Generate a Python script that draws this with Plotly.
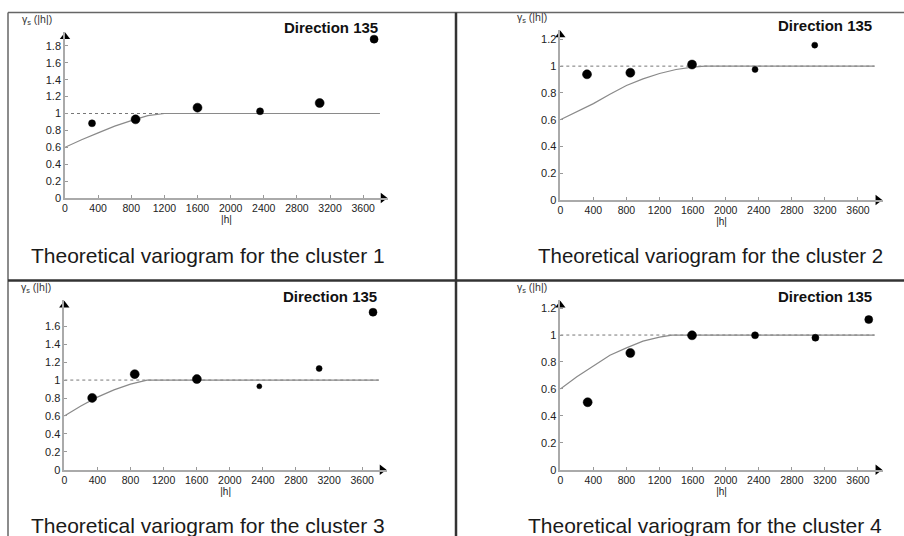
import plotly.graph_objects as go

W, H = 904, 536

# ---------------- data ----------------
x_ticks = [0, 400, 800, 1200, 1600, 2000, 2400, 2800, 3200, 3600]
x_tick_labels = ["0", "400", "800", "1200", "1600", "2000", "2400", "2800", "3200", "3600"]

y_ticks_c1 = [0, 0.2, 0.4, 0.6, 0.8, 1, 1.2, 1.4, 1.6, 1.8]
y_ticks_c2 = [0, 0.2, 0.4, 0.6, 0.8, 1, 1.2]
y_ticks_c3 = [0, 0.2, 0.4, 0.6, 0.8, 1, 1.2, 1.4, 1.6]
y_ticks_c4 = [0, 0.2, 0.4, 0.6, 0.8, 1, 1.2]

# experimental variogram points
lag_c1 = [326, 852, 1600, 2355, 3075, 3732]
gamma_c1 = [0.884, 0.931, 1.069, 1.026, 1.124, 1.88]
lag_c2 = [323, 847, 1593, 2355, 3077]
gamma_c2 = [0.939, 0.951, 1.012, 0.975, 1.157]
lag_c3 = [337, 851, 1602, 2357, 3080, 3731]
gamma_c3 = [0.801, 1.066, 1.011, 0.930, 1.129, 1.757]
lag_c4 = [331, 847, 1593, 2355, 3085, 3730]
gamma_c4 = [0.501, 0.867, 0.998, 0.998, 0.980, 1.115]

# theoretical (model) curves
model_h_c1 = [0, 200, 400, 600, 800, 1000, 1200, 3800]
model_g_c1 = [0.6, 0.69, 0.77, 0.85, 0.915, 0.975, 1.0, 1.0]
model_h_c2 = [0, 200, 400, 600, 800, 1000, 1200, 1400, 1600, 1750, 3800]
model_g_c2 = [0.6, 0.66, 0.72, 0.79, 0.855, 0.905, 0.945, 0.975, 0.993, 1.0, 1.0]
model_h_c3 = [0, 200, 400, 600, 800, 1000, 3800]
model_g_c3 = [0.6, 0.71, 0.81, 0.89, 0.955, 1.0, 1.0]
model_h_c4 = [0, 200, 400, 600, 800, 1000, 1200, 1350, 3800]
model_g_c4 = [0.6, 0.69, 0.77, 0.85, 0.905, 0.955, 0.985, 1.0, 1.0]

sill_h = [0, 3800]
sill_value = 1.0

captions = ["Theoretical variogram for the cluster 1",
            "Theoretical variogram for the cluster 2",
            "Theoretical variogram for the cluster 3",
            "Theoretical variogram for the cluster 4"]
direction_label = "Direction 135"
y_title = "γ<sub>s</sub> (|h|)"
x_title = "|h|"

# ---------------- styles / layout ----------------
marker_sizes = [[7, 9, 9, 7, 9, 8], [9, 9, 9, 6, 6], [9, 9, 9, 5, 6, 8], [9, 9, 9, 7, 7, 8]]
FONT = "Liberation Sans, Arial, sans-serif"

# pixel boxes of each plot area: (x_left, x_right, y_bottom, y_top)
boxes = [(65, 388, 198, 31.7), (560.3, 882.8, 200, 30),
         (64.3, 387, 469.7, 300.3), (560.3, 882.8, 469.7, 300.3)]
x_max = 3900
y_max = [1.968, 1.27, 1.89, 1.258]

panels = [
    (lag_c1, gamma_c1, model_h_c1, model_g_c1, y_ticks_c1),
    (lag_c2, gamma_c2, model_h_c2, model_g_c2, y_ticks_c2),
    (lag_c3, gamma_c3, model_h_c3, model_g_c3, y_ticks_c3),
    (lag_c4, gamma_c4, model_h_c4, model_g_c4, y_ticks_c4),
]

fig = go.Figure()
layout = dict(width=W, height=H, autosize=False, margin=dict(l=0, r=0, t=0, b=0, pad=0),
              paper_bgcolor="white", plot_bgcolor="white", showlegend=False,
              font=dict(family=FONT, color="#222"))

annotations = []
shapes = []

def px_x(x):
    return x / W

def px_y(y):
    return 1 - y / H

for i, (lag, gam, mh, mg, yt) in enumerate(panels):
    n = i + 1
    xa = "x" if n == 1 else f"x{n}"
    ya = "y" if n == 1 else f"y{n}"
    xl, xr, yb, ytop = boxes[i]
    px_per_x = (xr - xl) / x_max
    px_per_y = (yb - ytop) / y_max[i]

    # sill (dotted)
    fig.add_trace(go.Scatter(x=sill_h, y=[sill_value] * len(sill_h), mode="lines",
                             line=dict(color="#777", width=1, dash="dot"),
                             xaxis=xa, yaxis=ya, hoverinfo="skip"))
    # model curve
    fig.add_trace(go.Scatter(x=mh, y=mg, mode="lines",
                             line=dict(color="#8a8a8a", width=1.2),
                             xaxis=xa, yaxis=ya, hoverinfo="skip"))
    # experimental points
    fig.add_trace(go.Scatter(x=lag, y=gam, mode="markers",
                             marker=dict(color="#000000", size=marker_sizes[i], opacity=1,
                                         line=dict(color="#000000", width=0.5)),
                             xaxis=xa, yaxis=ya, cliponaxis=False))
    # axis arrows
    fig.add_trace(go.Scatter(x=[x_max - 5 / px_per_x], y=[0], mode="markers",
                             marker=dict(symbol="triangle-right", color="black", size=9),
                             xaxis=xa, yaxis=ya, cliponaxis=False, hoverinfo="skip"))
    fig.add_trace(go.Scatter(x=[0], y=[y_max[i] - 5 / px_per_y], mode="markers",
                             marker=dict(symbol="triangle-up", color="black", size=9),
                             xaxis=xa, yaxis=ya, cliponaxis=False, hoverinfo="skip"))

    ykey = "yaxis" if n == 1 else f"yaxis{n}"
    xkey = "xaxis" if n == 1 else f"xaxis{n}"
    layout[xkey] = dict(domain=[px_x(xl), px_x(xr)], range=[0, x_max], anchor=ya,
                        automargin=False,
                        showgrid=False, zeroline=False, showline=True,
                        linecolor="#aaa", linewidth=1.5,
                        ticks="inside", ticklen=3, tickcolor="#999",
                        tickvals=x_ticks, ticktext=x_tick_labels,
                        tickfont=dict(size=10.5, color="#222"),
                        title=dict(text=x_title, font=dict(size=10, color="#222"), standoff=2))
    layout[ykey] = dict(domain=[px_y(yb), px_y(ytop)], range=[0, y_max[i]], anchor=xa,
                        automargin=False,
                        showgrid=False, zeroline=False, showline=True,
                        linecolor="#aaa", linewidth=1.5,
                        ticks="inside", ticklen=3, tickcolor="#999",
                        tickvals=yt, ticktext=[f"{v:g}" for v in yt],
                        tickfont=dict(size=11, color="#222"))

    # y-axis title above the axis
    annotations.append(dict(xref="paper", yref="paper", x=px_x(xl - 11), y=px_y(ytop - 12),
                            xanchor="right", yanchor="middle", showarrow=False,
                            text=y_title, font=dict(size=10.5, color="#333")))
    # Direction label
    annotations.append(dict(xref="paper", yref="paper", x=px_x(xl + 315 if i in (0, 2) else xl + 314),
                            y=px_y(ytop - 4), xanchor="right", yanchor="middle", showarrow=False,
                            text=f"<b>{direction_label}</b>", font=dict(size=15, color="#111")))

# captions
caption_pos = [(208, 255), (710, 255), (208, 525), (705, 525)]
caption_sizes = [21, 20.5, 21, 21]
for (cx, cy), txt, fs in zip(caption_pos, captions, caption_sizes):
    annotations.append(dict(xref="paper", yref="paper", x=px_x(cx), y=px_y(cy),
                            xanchor="center", yanchor="middle", showarrow=False,
                            text=txt, font=dict(size=fs, color="#1a1a1a")))

# frame lines
frame = [
    (8, 12.5, W, 12.5, "#666", 1.5),
    (8, 12.5, 8, H, "#666", 1.5),
    (456, 12.5, 456, H, "#333", 2.5),
    (8, 280.5, W, 280.5, "#333", 2.5),
]
for x0, y0, x1, y1, c, w in frame:
    shapes.append(dict(type="line", xref="paper", yref="paper",
                       x0=px_x(x0), y0=px_y(y0), x1=px_x(x1), y1=px_y(y1),
                       line=dict(color=c, width=w)))

layout["annotations"] = annotations
layout["shapes"] = shapes
fig.update_layout(**layout)
fig.write_html(
    "out.html",
    config={"displayModeBar": False},
    post_script="document.body.style.margin='0';document.body.style.overflow='hidden';",
)
